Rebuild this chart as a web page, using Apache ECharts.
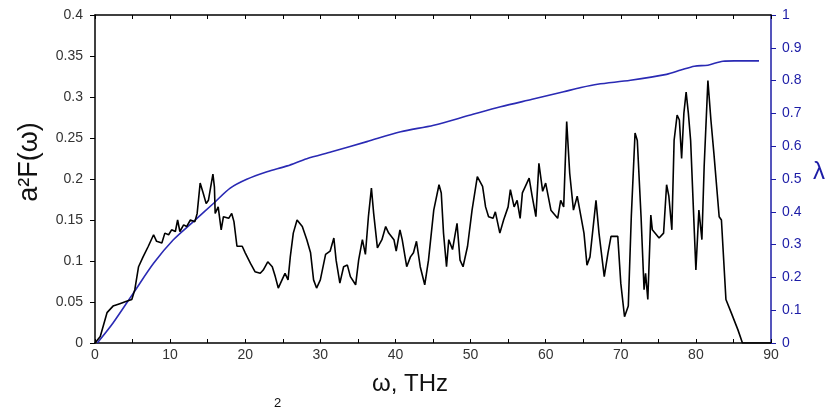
<!DOCTYPE html>
<html>
<head>
<meta charset="UTF-8">
<title>a2F and lambda</title>
<script src="https://cdn.jsdelivr.net/npm/echarts@6/dist/echarts.min.js"></script>
<style>
  body { margin: 0; background: #fff; }
  #chart { width: 831px; height: 409px; }
</style>
</head>
<body>
<div id="chart"></div>
<script>
// frequency (THz) and a2F(w)
var omegaF = [0, 0.7, 1.6, 2.4, 3.3, 4.2, 4.9, 5.3, 5.8, 6.4, 7.1, 7.8, 8.2, 8.9, 9.3, 9.8, 10.2, 10.7, 11.0, 11.3,
  11.8, 12.2, 12.7, 13.3, 13.6, 14.0, 14.4, 14.8, 15.1, 15.4, 15.7, 15.9, 16.0, 16.4, 16.8, 17.1, 17.8, 18.2, 18.5, 18.9,
  19.6, 20.0, 20.7, 21.3, 22.0, 22.4, 23.0, 23.6, 24.0, 24.4, 24.9, 25.3, 25.7, 26.0, 26.4, 26.9, 27.6, 28.2, 28.7, 29.1,
  29.5, 30.0, 30.7, 31.3, 31.8, 32.1, 32.6, 33.1, 33.6, 34.0, 34.7, 35.1, 35.6, 36.0, 36.4, 36.8, 37.1, 37.6, 38.2, 38.7,
  39.1, 39.8, 40.1, 40.6, 40.9, 41.5, 42.0, 42.4, 42.8, 43.3, 43.9, 44.4, 45.1, 45.8, 46.1, 46.4, 46.8, 47.1, 47.6, 47.9,
  48.2, 48.6, 49.0, 49.6, 50.2, 50.9, 51.6, 52.0, 52.4, 53.0, 53.3, 53.9, 54.4, 55.0, 55.3, 55.8, 56.2, 56.6, 56.9, 57.3,
  57.8, 58.2, 58.7, 59.1, 59.6, 60.0, 60.7, 61.6, 62.0, 62.4, 62.8, 63.2, 63.7, 64.2, 64.7, 65.1, 65.5, 65.9, 66.7, 67.1,
  67.8, 68.3, 68.7, 69.1, 69.6, 70.0, 70.5, 71.0, 71.4, 71.9, 72.2, 72.7, 73.1, 73.3, 73.6, 74.0, 74.2, 75.1, 75.7, 76.1,
  76.4, 76.8, 77.1, 77.5, 77.8, 78.1, 78.4, 78.7, 79.0, 79.3, 79.8, 80.0, 80.4, 80.8, 81.1, 81.6, 82.0, 82.4, 83.1, 83.4,
  84.0, 84.7, 85.6, 86.2, 90];
var a2F = [0, 0.008, 0.037, 0.045, 0.048, 0.051, 0.053, 0.065, 0.093, 0.105, 0.118, 0.132, 0.124, 0.122, 0.134, 0.132, 0.138, 0.136, 0.150, 0.136,
  0.144, 0.142, 0.150, 0.148, 0.158, 0.195, 0.183, 0.170, 0.174, 0.190, 0.206, 0.190, 0.158, 0.166, 0.138, 0.154, 0.152, 0.158, 0.148, 0.118,
  0.118, 0.110, 0.097, 0.087, 0.085, 0.089, 0.099, 0.093, 0.081, 0.067, 0.077, 0.085, 0.077, 0.105, 0.134, 0.150, 0.142, 0.126, 0.110, 0.077,
  0.067, 0.077, 0.108, 0.112, 0.128, 0.101, 0.073, 0.093, 0.095, 0.081, 0.071, 0.101, 0.126, 0.108, 0.154, 0.189, 0.158, 0.116, 0.126, 0.142,
  0.134, 0.126, 0.112, 0.138, 0.126, 0.093, 0.105, 0.110, 0.124, 0.093, 0.071, 0.101, 0.162, 0.193, 0.183, 0.134, 0.093, 0.126, 0.114, 0.130,
  0.146, 0.101, 0.093, 0.118, 0.162, 0.203, 0.191, 0.166, 0.154, 0.152, 0.160, 0.134, 0.150, 0.166, 0.187, 0.166, 0.174, 0.152, 0.183, 0.191,
  0.201, 0.179, 0.154, 0.219, 0.185, 0.195, 0.162, 0.152, 0.174, 0.166, 0.270, 0.207, 0.162, 0.179, 0.154, 0.134, 0.095, 0.105, 0.174, 0.134,
  0.081, 0.110, 0.130, 0.130, 0.130, 0.073, 0.032, 0.045, 0.154, 0.256, 0.247, 0.154, 0.065, 0.085, 0.053, 0.156, 0.138, 0.128, 0.134, 0.193,
  0.179, 0.138, 0.247, 0.278, 0.272, 0.225, 0.280, 0.306, 0.280, 0.247, 0.134, 0.089, 0.162, 0.126, 0.215, 0.320, 0.272, 0.231, 0.154, 0.150,
  0.053, 0.037, 0.016, 0, 0];

// frequency (THz) and lambda
var omegaL = [0.3, 2.4, 5.1, 7.8, 10.4, 13.1, 15.8, 18.0, 20.2, 22.9, 25.6, 28.2, 31.5, 36.2, 40.7, 45.1, 50.0, 54.0, 58.2, 62.4,
  64.7, 66.9, 71.3, 76.1, 78.0, 79.8, 81.6, 83.6, 85.1, 88.4];
var lambda = [0, 0.061, 0.152, 0.243, 0.314, 0.370, 0.426, 0.472, 0.499, 0.522, 0.540, 0.562, 0.583, 0.614, 0.644, 0.664, 0.695, 0.720, 0.743, 0.766,
  0.779, 0.789, 0.801, 0.819, 0.832, 0.844, 0.847, 0.859, 0.860, 0.860];

var blue = '#2a2ab4';
var axisBlue = '#1c1ca6';
var font = 'Liberation Sans, Arial, sans-serif';

function pairs(xs, ys) {
  return xs.map(function (x, i) { return [x, ys[i]]; });
}

var chart = echarts.init(document.getElementById('chart'));
chart.setOption({
  animation: false,
  grid: { left: 95, right: 60, top: 15, bottom: 66 },
  xAxis: [{
    type: 'value', min: 0, max: 90, interval: 5, position: 'bottom',
    axisLine: { show: true, onZero: false, lineStyle: { color: '#000', width: 1.5 } },
    axisTick: { show: true, inside: true, length: 4, lineStyle: { color: '#000' } },
    axisLabel: {
      margin: 5, fontSize: 14, color: '#333', fontFamily: font,
      formatter: function (v) { return v % 10 === 0 ? v : ''; }
    },
    splitLine: { show: false }
  }, {
    type: 'value', min: 0, max: 90, interval: 5, position: 'top',
    axisLine: { show: true, onZero: false, lineStyle: { color: '#000', width: 1.5 } },
    axisTick: { show: true, inside: true, length: 4, lineStyle: { color: '#000' } },
    axisLabel: { show: false },
    splitLine: { show: false }
  }],
  yAxis: [{
    type: 'value', min: 0, max: 0.4, interval: 0.05, position: 'left',
    axisLine: { show: true, onZero: false, lineStyle: { color: '#000', width: 1.5 } },
    axisTick: { show: true, inside: false, length: 5, lineStyle: { color: '#000' } },
    axisLabel: { margin: 12, fontSize: 14, color: '#333', fontFamily: font },
    splitLine: { show: false }
  }, {
    type: 'value', min: 0, max: 1, interval: 0.1, position: 'right',
    axisLine: { show: true, onZero: false, lineStyle: { color: axisBlue, width: 1.5 } },
    axisTick: { show: true, inside: false, length: 5, lineStyle: { color: axisBlue } },
    axisLabel: { margin: 11, fontSize: 14, color: axisBlue, fontFamily: font },
    splitLine: { show: false }
  }],
  graphic: [
    { type: 'text', left: 372, top: 372, style: { text: 'ω, THz', fontSize: 24, fill: '#111', fontFamily: font } },
    { type: 'text', x: 30, y: 162, rotation: Math.PI / 2,
      style: { text: 'a²F(ω)', fontSize: 27, fill: '#111', fontFamily: font, align: 'center', verticalAlign: 'middle' } },
    { type: 'text', left: 813, top: 160, style: { text: 'λ', fontSize: 24, fill: axisBlue, fontFamily: font } },
    { type: 'text', left: 274, top: 397, style: { text: '2', fontSize: 13, fill: '#111', fontFamily: font } }
  ],
  series: [{
    name: 'a2F', type: 'line', xAxisIndex: 0, yAxisIndex: 0,
    showSymbol: false, data: pairs(omegaF, a2F),
    lineStyle: { color: '#000', width: 1.6 }, z: 3
  }, {
    name: 'lambda', type: 'line', xAxisIndex: 0, yAxisIndex: 1,
    showSymbol: false, smooth: 0.3, data: pairs(omegaL, lambda),
    lineStyle: { color: blue, width: 1.6 }, z: 2
  }]
});
</script>
</body>
</html>
